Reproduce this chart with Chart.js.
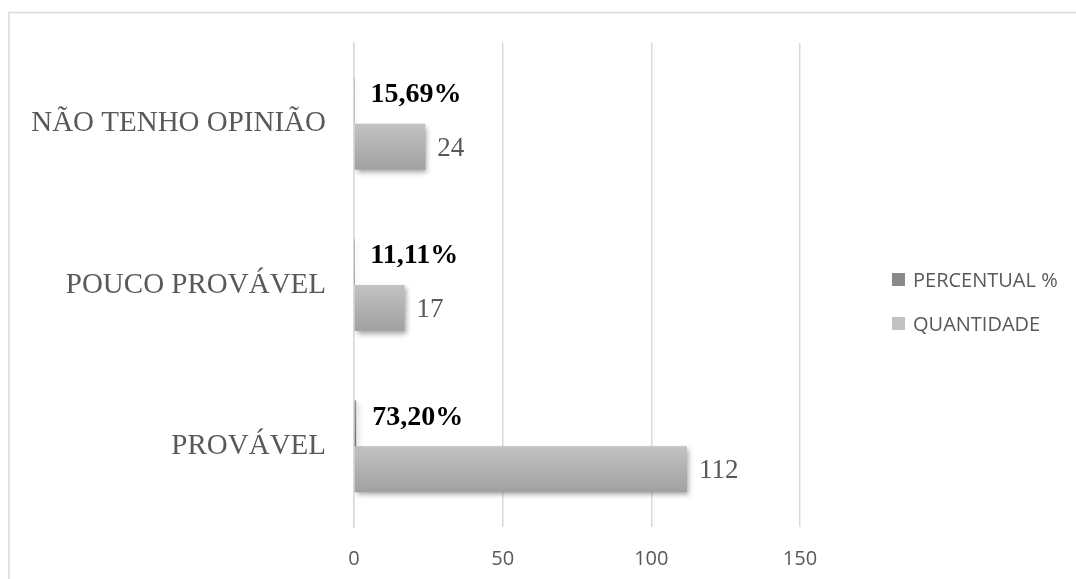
<!DOCTYPE html>
<html lang="pt">
<head>
<meta charset="utf-8">
<title>Probabilidade</title>
<script src="https://cdn.jsdelivr.net/npm/chart.js@4.4.1/dist/chart.umd.min.js"></script>
<style>
    html, body { margin: 0; padding: 0; background: #fff; }
    #wrap { position: relative; width: 1076px; height: 579px; overflow: hidden; }
    #legend { position: absolute; left: 892px; top: 266px; font-family: "Open Sans", sans-serif; font-size: 20px; color: #595959; }
    .item { display: flex; align-items: center; height: 26px; margin-bottom: 18px; white-space: nowrap; }
    .box { width: 13px; height: 13px; margin-right: 8px; }
</style>
</head>
<body>
<div id="wrap">
    <canvas id="barChart" width="1076" height="579"></canvas>
    <div id="legend"></div>
</div>
<script>
const categories = ['NÃO TENHO OPINIÃO', 'POUCO PROVÁVEL', 'PROVÁVEL'];
const seriesNames = ['PERCENTUAL %', 'QUANTIDADE'];
const percentual = [0.1569, 0.1111, 0.7320];
const quantidade = [24, 17, 112];
const xTicks = [0, 50, 100, 150];

const serif = '"Liberation Serif", "Times New Roman", serif';
const sans = '"Open Sans", sans-serif';

// frame, bar shadows, shading and value labels
const decor = {
    id: 'decor',
    beforeDraw(chart) {
        const ctx = chart.ctx;
        ctx.save();
        ctx.strokeStyle = '#d9d9d9';
        ctx.lineWidth = 1.5;
        ctx.strokeRect(9, 12.5, chart.width + 20, chart.height + 20);
        ctx.restore();
    },
    beforeDatasetsDraw(chart) {
        const ctx = chart.ctx;
        ctx.save();
        ctx.shadowColor = 'rgba(0,0,0,0.35)';
        ctx.shadowBlur = 5;
        ctx.shadowOffsetX = 2;
        ctx.shadowOffsetY = 3;
    },
    afterDatasetsDraw(chart) {
        const ctx = chart.ctx;
        ctx.restore();
        chart.data.datasets.forEach((ds, i) => {
            const meta = chart.getDatasetMeta(i);
            meta.data.forEach((bar, j) => {
                const { x, y, base, height } = bar.getProps(['x', 'y', 'base', 'height'], true);
                const top = y - height / 2;
                const g = ctx.createLinearGradient(0, top, 0, top + height);
                g.addColorStop(0, 'rgba(255,255,255,0.15)');
                g.addColorStop(1, 'rgba(0,0,0,0.13)');
                ctx.fillStyle = g;
                ctx.fillRect(base, top, x - base, height);

                ctx.save();
                ctx.textAlign = 'left';
                ctx.textBaseline = 'middle';
                if (i === 0) {
                    ctx.font = 'bold 28px ' + serif;
                    ctx.fillStyle = '#000';
                    const txt = (ds.data[j] * 100).toFixed(2).replace('.', ',') + '%';
                    ctx.fillText(txt, x + 16, y - 6);
                } else {
                    ctx.font = '27px ' + serif;
                    ctx.fillStyle = '#595959';
                    ctx.fillText(String(ds.data[j]), x + 12, y + 2);
                }
                ctx.restore();
            });
        });
    }
};

const ctx = document.getElementById('barChart').getContext('2d');
const barChart = new Chart(ctx, {
    type: 'bar',
    data: {
        labels: categories,
        datasets: [{
            label: seriesNames[0],
            data: percentual,
            backgroundColor: '#7f7f7f',
            legendColor: '#8a8a8a'
        }, {
            label: seriesNames[1],
            data: quantidade,
            backgroundColor: '#b9b9b9',
            legendColor: '#c2c2c2'
        }]
    },
    options: {
        indexAxis: 'y',
        responsive: false,
        animation: false,
        categoryPercentage: 0.57,
        barPercentage: 1,
        layout: { padding: { top: 43, right: 276, left: 0, bottom: 0 } },
        plugins: {
            legend: { display: false },
            tooltip: { enabled: false }
        },
        scales: {
            x: {
                min: 0,
                max: 150,
                afterBuildTicks(scale) {
                    scale.ticks = xTicks.map(v => ({ value: v }));
                },
                afterFit(scale) { scale.height = 52; },
                border: { display: false },
                grid: { color: '#d9d9d9', lineWidth: 1.5, drawTicks: false },
                ticks: { padding: 20, color: '#595959', font: { family: sans, size: 20 } }
            },
            y: {
                afterFit(scale) { scale.width = 354; },
                border: { display: true, color: '#d9d9d9', width: 1.5 },
                grid: { display: false },
                ticks: { padding: 20, color: '#595959', font: { family: serif, size: 29 } }
            }
        }
    },
    plugins: [decor]
});

// legend built from the datasets
const legend = document.getElementById('legend');
barChart.data.datasets.forEach(ds => {
    const item = document.createElement('div');
    item.className = 'item';
    const box = document.createElement('span');
    box.className = 'box';
    box.style.background = ds.legendColor;
    const text = document.createElement('span');
    text.textContent = ds.label;
    item.appendChild(box);
    item.appendChild(text);
    legend.appendChild(item);
});
</script>
</body>
</html>
